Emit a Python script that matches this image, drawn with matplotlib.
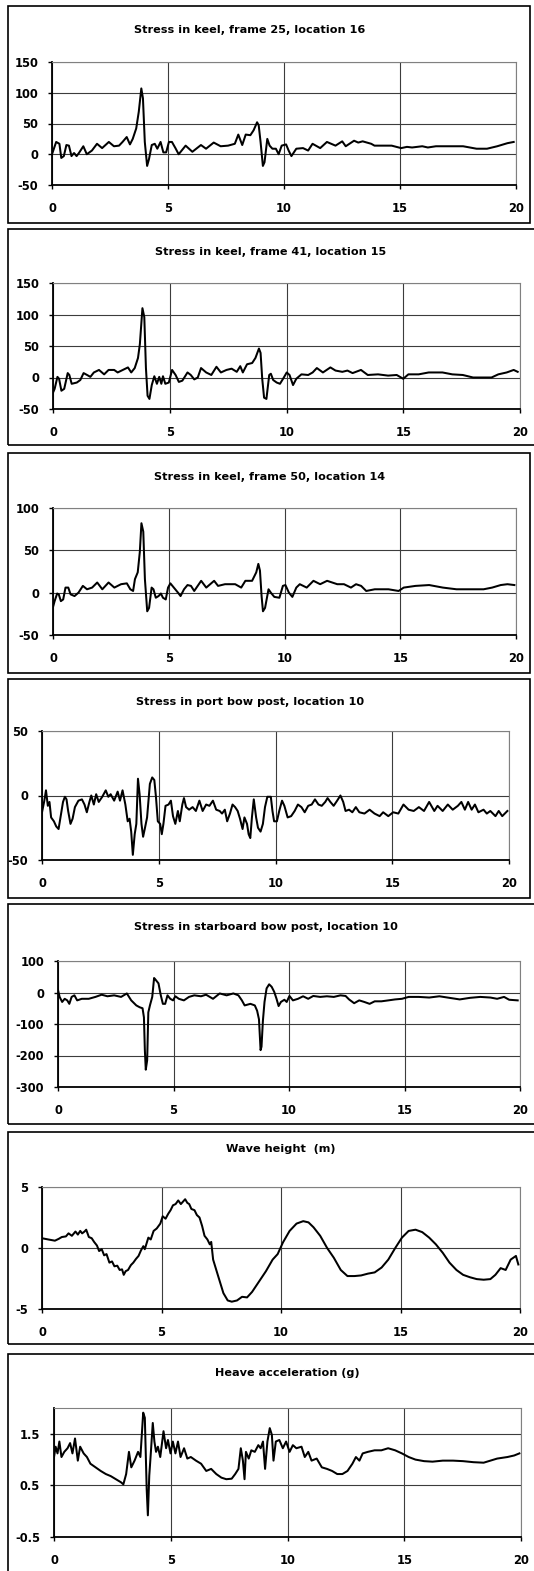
import numpy as np
import matplotlib
matplotlib.use("Agg")
import matplotlib.pyplot as plt
from matplotlib.patches import Rectangle
from matplotlib.ticker import FormatStrFormatter

plt.rcParams['font.family'] = ['DejaVu Sans']
plt.rcParams['font.weight'] = 'bold'
plt.rcParams['axes.unicode_minus'] = False

# (time s, value) pairs
keel_f25 = [(0, 0), (0.18, 20), (0.32, 17), (0.40, -6), (0.51, -3), (0.62, 15), (0.73, 14),
            (0.84, -3), (0.95, 2), (1.06, -3), (1.16, 2), (1.35, 13), (1.5, 0), (1.72, 6),
            (1.94, 17), (2.16, 10), (2.45, 20), (2.67, 13), (2.89, 14), (3.04, 20), (3.22, 28),
            (3.36, 16), (3.48, 25), (3.63, 42), (3.74, 69), (3.85, 107), (3.92, 91), (4.0, 20),
            (4.10, -19), (4.18, -8), (4.30, 15), (4.43, 17), (4.54, 9), (4.68, 20), (4.80, 3),
            (4.92, 3), (5.04, 20), (5.17, 20), (5.32, 10), (5.46, 0), (5.76, 14), (6.05, 4),
            (6.42, 15), (6.64, 9), (6.97, 19), (7.27, 13), (7.59, 14), (7.88, 17), (8.03, 32),
            (8.2, 15), (8.35, 32), (8.55, 31), (8.69, 39), (8.84, 52), (8.91, 47), (8.99, 20),
            (9.09, -19), (9.16, -13), (9.28, 25), (9.38, 14), (9.5, 9), (9.65, 9), (9.77, 0),
            (9.9, 14), (10.09, 16), (10.2, 6), (10.32, -3), (10.53, 9), (10.82, 10), (11.04, 6),
            (11.23, 17), (11.56, 10), (11.85, 20), (12.22, 14), (12.51, 21), (12.66, 13),
            (13.02, 22), (13.2, 19), (13.39, 21), (13.76, 17), (13.9, 14), (14.2, 14), (14.64, 14),
            (15.05, 10), (15.3, 12), (15.52, 11), (15.96, 13), (16.2, 11), (16.55, 13), (17.14, 13),
            (17.72, 13), (18.3, 9), (18.75, 9), (19.19, 13), (19.63, 18), (19.9, 20)]

keel_f41 = [(0, -24), (0.07, -18), (0.19, 1), (0.26, -2), (0.36, -21), (0.48, -18), (0.63, 7),
            (0.70, 4), (0.80, -10), (1.02, -8), (1.17, -4), (1.31, 7), (1.46, 4), (1.60, 1),
            (1.75, 8), (1.97, 12), (2.19, 5), (2.38, 12), (2.62, 12), (2.77, 8), (2.99, 12),
            (3.21, 16), (3.35, 8), (3.50, 15), (3.64, 31), (3.72, 53), (3.83, 110), (3.91, 96),
            (3.98, 15), (4.05, -29), (4.13, -34), (4.23, -12), (4.34, 2), (4.45, -10), (4.55, 1),
            (4.64, -10), (4.71, 2), (4.81, -10), (4.96, -8), (5.10, 12), (5.25, 4), (5.39, -7),
            (5.54, -5), (5.76, 8), (5.90, 4), (6.05, -3), (6.20, 0), (6.34, 15), (6.56, 8),
            (6.78, 4), (7.0, 17), (7.19, 8), (7.43, 12), (7.65, 14), (7.87, 9), (8.02, 18),
            (8.13, 8), (8.31, 21), (8.53, 23), (8.67, 31), (8.82, 46), (8.89, 39), (8.96, -2),
            (9.04, -32), (9.14, -34), (9.26, 4), (9.33, 6), (9.43, -4), (9.58, -8), (9.72, -10),
            (9.87, -1), (10.01, 8), (10.13, 4), (10.28, -12), (10.42, -2), (10.64, 5), (10.93, 4),
            (11.12, 8), (11.30, 15), (11.56, 8), (11.88, 16), (12.10, 11), (12.39, 9), (12.61, 11),
            (12.83, 7), (13.19, 12), (13.48, 4), (13.92, 5), (14.35, 3), (14.72, 4), (15.0, -2),
            (15.22, 5), (15.66, 5), (16.09, 8), (16.68, 8), (17.1, 5), (17.55, 4), (17.99, 0),
            (18.4, 0), (18.78, 0), (19.07, 5), (19.43, 8), (19.73, 12), (19.9, 9)]

keel_f50 = [(0, -17), (0.07, -10), (0.18, -1), (0.25, -2), (0.34, -10), (0.44, -8), (0.54, 6),
            (0.66, 6), (0.76, -2), (0.93, -4), (1.10, 0), (1.29, 8), (1.47, 4), (1.69, 6),
            (1.91, 12), (2.13, 4), (2.40, 12), (2.65, 6), (2.94, 10), (3.19, 11), (3.34, 4),
            (3.46, 2), (3.54, 16), (3.66, 24), (3.75, 48), (3.82, 82), (3.90, 72), (3.97, 16),
            (4.07, -22), (4.15, -18), (4.26, 6), (4.34, 4), (4.44, -6), (4.56, -4), (4.66, -1),
            (4.75, -6), (4.87, -8), (4.97, 6), (5.07, 11), (5.22, 6), (5.40, 0), (5.51, -4),
            (5.66, 4), (5.81, 9), (5.96, 8), (6.10, 2), (6.40, 14), (6.62, 6), (6.96, 14),
            (7.13, 8), (7.43, 10), (7.87, 10), (8.13, 6), (8.31, 14), (8.60, 14), (8.78, 24),
            (8.87, 34), (8.94, 26), (9.01, -4), (9.07, -22), (9.16, -18), (9.31, 4), (9.41, 0),
            (9.56, -5), (9.78, -6), (9.93, 8), (10.04, 9), (10.19, 0), (10.34, -5), (10.51, 6),
            (10.66, 10), (10.96, 6), (11.25, 14), (11.54, 10), (11.84, 14), (12.28, 10),
            (12.57, 10), (12.87, 6), (13.09, 10), (13.31, 8), (13.53, 2), (13.90, 4), (14.49, 4),
            (14.93, 2), (15.15, 6), (15.66, 8), (16.25, 9), (16.84, 6), (17.43, 4), (18.01, 4),
            (18.60, 4), (18.97, 6), (19.34, 9), (19.63, 10), (19.93, 9)]

port_bow = [(0, -13), (0.10, -4), (0.17, 4), (0.25, -8), (0.32, -5), (0.39, -17), (0.51, -20),
            (0.61, -24), (0.71, -26), (0.80, -16), (0.90, -5), (0.98, -1), (1.05, -3), (1.12, -12),
            (1.22, -22), (1.31, -18), (1.41, -9), (1.56, -4), (1.71, -3), (1.82, -7), (1.92, -13),
            (2.03, -5), (2.11, 0), (2.22, -7), (2.32, 1), (2.43, -5), (2.58, -1), (2.73, 4),
            (2.84, -1), (2.94, 1), (3.09, -4), (3.24, 3), (3.34, -4), (3.45, 4), (3.57, -7),
            (3.67, -20), (3.75, -18), (3.82, -28), (3.89, -46), (3.97, -30), (4.04, -22),
            (4.11, 13), (4.18, 1), (4.26, -22), (4.33, -32), (4.40, -26), (4.50, -17), (4.62, 9),
            (4.72, 14), (4.81, 12), (4.88, -1), (4.96, -20), (5.06, -22), (5.13, -30), (5.20, -22),
            (5.29, -8), (5.42, -7), (5.52, -4), (5.61, -16), (5.71, -22), (5.82, -12), (5.90, -20),
            (6.01, -7), (6.08, -2), (6.17, -9), (6.30, -11), (6.45, -9), (6.59, -12), (6.74, -4),
            (6.88, -12), (7.03, -7), (7.17, -8), (7.32, -4), (7.46, -11), (7.61, -12), (7.71, -14),
            (7.83, -11), (7.93, -20), (8.05, -14), (8.16, -7), (8.27, -9), (8.38, -12), (8.48, -18),
            (8.59, -26), (8.67, -17), (8.78, -22), (8.85, -30), (8.92, -33), (8.99, -17),
            (9.07, -3), (9.17, -17), (9.25, -25), (9.36, -28), (9.46, -22), (9.55, -9), (9.65, -1),
            (9.80, -1), (9.87, -12), (9.94, -20), (10.06, -20), (10.16, -12), (10.28, -4),
            (10.38, -8), (10.52, -17), (10.67, -16), (10.82, -12), (10.96, -7), (11.11, -9),
            (11.25, -13), (11.40, -8), (11.55, -7), (11.69, -3), (11.84, -7), (11.98, -8),
            (12.13, -5), (12.23, -2), (12.35, -5), (12.49, -8), (12.64, -4), (12.78, 0),
            (12.90, -5), (13.00, -12), (13.15, -11), (13.29, -13), (13.44, -9), (13.59, -13),
            (13.81, -14), (14.03, -11), (14.24, -14), (14.46, -16), (14.61, -13), (14.83, -16),
            (15.04, -13), (15.26, -14), (15.48, -7), (15.70, -11), (15.92, -12), (16.14, -9),
            (16.36, -12), (16.58, -5), (16.80, -12), (16.94, -8), (17.16, -12), (17.38, -7),
            (17.59, -11), (17.81, -8), (17.96, -5), (18.11, -11), (18.25, -5), (18.40, -11),
            (18.54, -7), (18.69, -13), (18.91, -11), (19.05, -14), (19.20, -12), (19.42, -16),
            (19.56, -12), (19.71, -16), (19.93, -12)]

stbd_bow = [(0, 8), (0.07, -14), (0.18, -30), (0.29, -20), (0.40, -25), (0.49, -36), (0.59, -14),
            (0.71, -9), (0.83, -25), (1.03, -20), (1.33, -20), (1.62, -14), (1.89, -7),
            (2.14, -12), (2.43, -9), (2.73, -14), (2.98, -3), (3.17, -25), (3.39, -41),
            (3.54, -47), (3.66, -50), (3.72, -79), (3.76, -183), (3.80, -245), (3.86, -215),
            (3.91, -63), (3.98, -41), (4.08, -14), (4.16, 46), (4.23, 40), (4.35, 29), (4.45, -9),
            (4.54, -36), (4.64, -36), (4.74, -9), (4.86, -20), (4.98, -25), (5.08, -12),
            (5.23, -20), (5.45, -25), (5.67, -14), (5.90, -9), (6.19, -12), (6.41, -7),
            (6.71, -20), (7.00, -3), (7.30, -9), (7.59, -3), (7.81, -9), (7.96, -25), (8.08, -41),
            (8.33, -36), (8.52, -41), (8.62, -58), (8.70, -85), (8.77, -183), (8.81, -172),
            (8.87, -90), (8.94, -30), (9.03, 13), (9.14, 26), (9.25, 18), (9.36, 2), (9.46, -20),
            (9.55, -43), (9.65, -30), (9.80, -23), (9.90, -30), (10.02, -11), (10.17, -25),
            (10.39, -20), (10.61, -12), (10.83, -20), (11.05, -11), (11.35, -14), (11.64, -12),
            (11.94, -14), (12.23, -9), (12.45, -11), (12.60, -22), (12.82, -34), (13.04, -25),
            (13.26, -30), (13.49, -36), (13.71, -28), (14.00, -28), (14.30, -25), (14.59, -22),
            (14.89, -20), (15.18, -14), (15.62, -14), (16.07, -16), (16.51, -12), (16.95, -17),
            (17.39, -22), (17.83, -17), (18.28, -14), (18.72, -16), (19.01, -20), (19.31, -14),
            (19.53, -23), (19.90, -25)]

wave_height = [(0, 0.8), (0.26, 0.7), (0.54, 0.6), (0.70, 0.75), (0.83, 0.9), (1.0, 0.95),
               (1.11, 1.2), (1.25, 1.0), (1.40, 1.35), (1.5, 1.1), (1.6, 1.4), (1.68, 1.2),
               (1.78, 1.35), (1.85, 1.5), (1.96, 0.9), (2.08, 0.8), (2.18, 0.5), (2.3, 0.2),
               (2.39, -0.25), (2.5, -0.1), (2.60, -0.6), (2.7, -0.5), (2.82, -1.2), (2.93, -1.1),
               (3.03, -1.5), (3.15, -1.45), (3.25, -1.8), (3.35, -1.75), (3.42, -2.2), (3.5, -1.9),
               (3.60, -1.8), (3.72, -1.4), (3.82, -1.2), (3.93, -0.9), (4.04, -0.65), (4.14, -0.2),
               (4.24, 0.15), (4.3, -0.1), (4.45, 0.85), (4.55, 0.7), (4.67, 1.4), (4.8, 1.6),
               (4.95, 2.0), (5.05, 2.6), (5.17, 2.4), (5.28, 2.8), (5.38, 3.1), (5.48, 3.5),
               (5.59, 3.6), (5.7, 3.9), (5.81, 3.6), (5.9, 3.8), (5.99, 4.0), (6.08, 3.7),
               (6.16, 3.6), (6.25, 3.2), (6.38, 3.1), (6.48, 2.7), (6.59, 2.5), (6.7, 1.8),
               (6.80, 1.0), (6.92, 0.7), (7.02, 0.3), (7.08, 0.5), (7.16, -0.95), (7.37, -2.3),
               (7.59, -3.7), (7.77, -4.3), (7.94, -4.4), (8.16, -4.3), (8.37, -4.0), (8.58, -4.05),
               (8.79, -3.6), (9.08, -2.75), (9.37, -1.9), (9.65, -0.95), (9.86, -0.5), (10.08, 0.45),
               (10.36, 1.4), (10.65, 2.0), (10.93, 2.2), (11.15, 2.1), (11.36, 1.7), (11.64, 1.0),
               (11.93, 0.0), (12.21, -0.8), (12.50, -1.8), (12.78, -2.3), (13.07, -2.3),
               (13.35, -2.25), (13.64, -2.1), (13.92, -2.0), (14.21, -1.6), (14.49, -0.95),
               (14.78, 0.0), (15.06, 0.85), (15.34, 1.4), (15.63, 1.5), (15.91, 1.3), (16.20, 0.85),
               (16.48, 0.3), (16.77, -0.4), (17.05, -1.2), (17.34, -1.8), (17.62, -2.2),
               (17.91, -2.4), (18.19, -2.55), (18.48, -2.6), (18.76, -2.55), (18.97, -2.2),
               (19.19, -1.65), (19.40, -1.8), (19.61, -0.95), (19.83, -0.65), (19.93, -1.35)]

heave_acc = [(0, 1.05), (0.07, 1.25), (0.15, 1.12), (0.23, 1.35), (0.32, 1.05), (0.44, 1.15),
             (0.58, 1.22), (0.69, 1.32), (0.79, 1.12), (0.90, 1.41), (1.02, 0.98), (1.12, 1.25),
             (1.27, 1.12), (1.41, 1.05), (1.56, 0.92), (1.78, 0.85), (2.0, 0.78), (2.22, 0.72),
             (2.43, 0.68), (2.65, 0.62), (2.87, 0.56), (2.97, 0.52), (3.09, 0.72), (3.21, 1.15),
             (3.31, 0.85), (3.45, 0.98), (3.60, 1.15), (3.70, 1.05), (3.82, 1.91), (3.89, 1.81),
             (3.97, 0.42), (4.02, -0.08), (4.08, 0.69), (4.15, 1.15), (4.23, 1.71), (4.30, 1.35),
             (4.37, 1.15), (4.45, 1.25), (4.55, 1.05), (4.69, 1.55), (4.80, 1.22), (4.88, 1.38),
             (4.99, 1.12), (5.09, 1.35), (5.20, 1.12), (5.31, 1.35), (5.42, 1.05), (5.57, 1.22),
             (5.71, 1.02), (5.86, 1.05), (6.08, 0.98), (6.30, 0.92), (6.52, 0.78), (6.73, 0.82),
             (6.95, 0.72), (7.17, 0.65), (7.38, 0.62), (7.61, 0.63), (7.76, 0.72), (7.90, 0.82),
             (8.00, 1.22), (8.09, 0.98), (8.16, 0.62), (8.22, 1.15), (8.34, 1.02), (8.45, 1.18),
             (8.60, 1.15), (8.75, 1.28), (8.85, 1.22), (8.95, 1.35), (9.04, 0.82), (9.14, 1.35),
             (9.24, 1.61), (9.33, 1.48), (9.40, 0.98), (9.50, 1.35), (9.65, 1.38), (9.80, 1.22),
             (9.94, 1.35), (10.09, 1.15), (10.23, 1.28), (10.38, 1.22), (10.60, 1.25), (10.74, 1.05),
             (10.89, 1.15), (11.03, 0.98), (11.25, 1.02), (11.47, 0.85), (11.69, 0.82), (11.91, 0.78),
             (12.13, 0.72), (12.35, 0.72), (12.57, 0.78), (12.78, 0.92), (12.93, 1.05), (13.08, 0.98),
             (13.22, 1.12), (13.44, 1.15), (13.73, 1.18), (14.02, 1.18), (14.31, 1.22), (14.61, 1.18),
             (14.90, 1.12), (15.19, 1.05), (15.48, 1.0), (15.85, 0.97), (16.21, 0.96), (16.65, 0.98),
             (17.09, 0.98), (17.52, 0.97), (17.96, 0.95), (18.40, 0.94), (18.69, 0.98), (18.98, 1.02),
             (19.42, 1.05), (19.71, 1.08), (19.93, 1.12)]

titles = ["Stress in keel, frame 25, location 16",
          "Stress in keel, frame 41, location 15",
          "Stress in keel, frame 50, location 14",
          "Stress in port bow post, location 10",
          "Stress in starboard bow post, location 10",
          "Wave height  (m)",
          "Heave acceleration (g)"]
series = [keel_f25, keel_f41, keel_f50, port_bow, stbd_bow, wave_height, heave_acc]
y_ranges = [(-50, 150), (-50, 150), (-50, 100), (-50, 50), (-300, 100), (-5, 5), (-0.5, 2.0)]
y_ticks = [[-50, 0, 50, 100, 150], [-50, 0, 50, 100, 150], [-50, 0, 50, 100],
           [-50, 0, 50], [-300, -200, -100, 0, 100], [-5, 0, 5], [-0.5, 0.5, 1.5]]
x_ticks = [0, 5, 10, 15, 20]

W, H = 534, 1571
# pixel layout: plot area (x0, y0, x1, y1), outer frame (x0, y0, x1, y1), title (x, y)
plot_px = [(52, 62, 516, 185), (53, 283, 520, 409), (53, 508, 516, 635), (42, 731, 509, 860),
           (58, 961, 520, 1087), (42, 1187, 520, 1309), (54, 1408, 521, 1537)]
frame_px = [(8, 6, 530, 223), (8, 229, 545, 445), (8, 453, 530, 673), (8, 679, 530, 898),
            (8, 904, 545, 1124), (8, 1132, 545, 1344), (8, 1354, 545, 1600)]
title_px = [(250, 30), (271, 252), (270, 477), (250, 702), (266, 927), (281, 1149), (287, 1373)]

fig = plt.figure(figsize=(W / 100, H / 100), dpi=100)

for i in range(7):
    fx0, fy0, fx1, fy1 = frame_px[i]
    fig.patches.append(Rectangle((fx0 / W, 1 - fy1 / H), (fx1 - fx0) / W, (fy1 - fy0) / H,
                                 transform=fig.transFigure, fill=False, ec='black', lw=1.2))
    tx, ty = title_px[i]
    fig.text(tx / W, 1 - ty / H, titles[i], ha='center', va='center',
             fontsize=8.1, fontweight='bold')

    px0, py0, px1, py1 = plot_px[i]
    ax = fig.add_axes([px0 / W, 1 - py1 / H, (px1 - px0) / W, (py1 - py0) / H])
    t, v = np.array(series[i]).T
    ax.plot(t, v, color='black', lw=1.45, zorder=3)

    ax.set_xlim(0, 20)
    ax.set_ylim(*y_ranges[i])
    ax.set_xticks(x_ticks)
    ax.set_yticks(y_ticks[i])
    ax.xaxis.set_major_formatter(FormatStrFormatter('%g'))
    ax.yaxis.set_major_formatter(FormatStrFormatter('%g'))
    ax.grid(True, color='#3c3c3c', lw=0.8)
    ax.set_axisbelow(True)
    ax.tick_params(axis='both', direction='out', length=3, width=1, labelsize=8.3)
    ax.tick_params(axis='x', pad=9)
    ax.tick_params(axis='y', pad=7)
    for side in ('left', 'bottom'):
        ax.spines[side].set_linewidth(1.3)
        ax.spines[side].set_color('black')
    for side in ('top', 'right'):
        ax.spines[side].set_linewidth(0.8)
        ax.spines[side].set_color('#808080')
    for lab in ax.get_xticklabels() + ax.get_yticklabels():
        lab.set_fontweight('bold')

fig.savefig('out.png', dpi=100)
